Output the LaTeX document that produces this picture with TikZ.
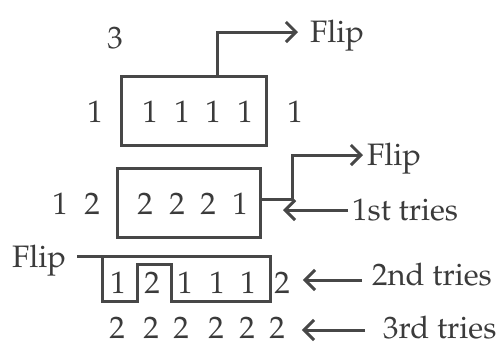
\documentclass[tikz,border=0pt]{standalone}
\usepackage[T1]{fontenc}
\usepackage{mathpazo}
\usetikzlibrary{arrows.meta,calc}
\definecolor{txt}{HTML}{3B3B3B}
\definecolor{ln}{HTML}{474747}
\tikzset{
  lbl/.style={inner sep=0pt, anchor=base, text=txt, font=\fontsize{31}{37}\selectfont},
  lblw/.style={lbl, anchor=base west},
  lbox/.style={draw=ln, line width=3pt, inner sep=0pt},
  conn/.style={draw=ln, line width=3pt},
  arr/.style={conn, -{Straight Barb[length=10pt,width=20pt,line width=3pt]}},
}
\begin{document}
\begin{tikzpicture}[x=1pt,y=-1pt]
\useasboundingbox (0,0) rectangle (503,349);
% top
\node[lbl] (three) at (115,48) {3};
\node[lblw] (flipa) at (310,42) {Flip};
% row 1
\node[lbox, minimum width=145pt, minimum height=69pt] (boxa) at (193.5,110.5) {};
\node[lbl] (ra0) at (95,122) {1};
\node[lbl] (ra1) at (150,122) {1};
\node[lbl] (ra2) at (182,122) {1};
\node[lbl] (ra3) at (213,122) {1};
\node[lbl] (ra4) at (245,122) {1};
\node[lbl] (ra5) at (295,122) {1};
\coordinate (boxatop) at (217,76);
\draw[arr] (boxatop) |- ($(flipa.base west)+(-12,-10)$);
% row 2
\node[lbox, minimum width=143pt, minimum height=69pt] (boxb) at (188.5,202.5) {};
\node[lbl] (rb0) at (60,214) {1};
\node[lbl] (rb1) at (92,214) {2};
\node[lbl] (rb2) at (145,214) {2};
\node[lbl] (rb3) at (177,214) {2};
\node[lbl] (rb4) at (208,214) {2};
\node[lbl] (rb5) at (240,214) {1};
\node[lblw] (flipb) at (367,165) {Flip};
\node[lblw] (first) at (352,220) {1st tries};
\coordinate (boxbout) at (boxb.east |- 0,199);
\draw[arr] (boxbout) -- (292,199) |- ($(flipb.base west)+(-4,-10)$);
\draw[arr] ($(first.base west)+(-4,-10)$) -- (283,210);
% row 3
\node[lbl, anchor=base west] (flipc) at (12,267) {Flip};
\coordinate (leadc) at (77,256);
\draw[conn, line join=miter] (leadc) -- (270,256) -- (270,301) -- (171,301) -- (171,264)
  -- (137,264) -- (137,301) -- (102,301) -- (102,256);
\node[lbl] (rc0) at (118,293) {1};
\node[lbl] (rc1) at (152,293) {2};
\node[lbl] (rc2) at (185,293) {1};
\node[lbl] (rc3) at (217,293) {1};
\node[lbl] (rc4) at (248,293) {1};
\node[lbl] (rc5) at (282,293) {2};
\node[lblw] (second) at (372,285) {2nd tries};
\draw[arr] ($(second.base west)+(-10,-5)$) -- ($(rc5.base east)+(13,-13)$);
% row 4
\node[lbl] (rd0) at (117,338) {2};
\node[lbl] (rd1) at (151,338) {2};
\node[lbl] (rd2) at (181,338) {2};
\node[lbl] (rd3) at (216,338) {2};
\node[lbl] (rd4) at (247,338) {2};
\node[lbl] (rd5) at (277,338) {2};
\node[lblw] (third) at (383,338) {3rd tries};
\draw[arr] ($(third.base west)+(-18,-8)$) -- ($(rd5.base east)+(17,-8)$);
\end{tikzpicture}
\end{document}
